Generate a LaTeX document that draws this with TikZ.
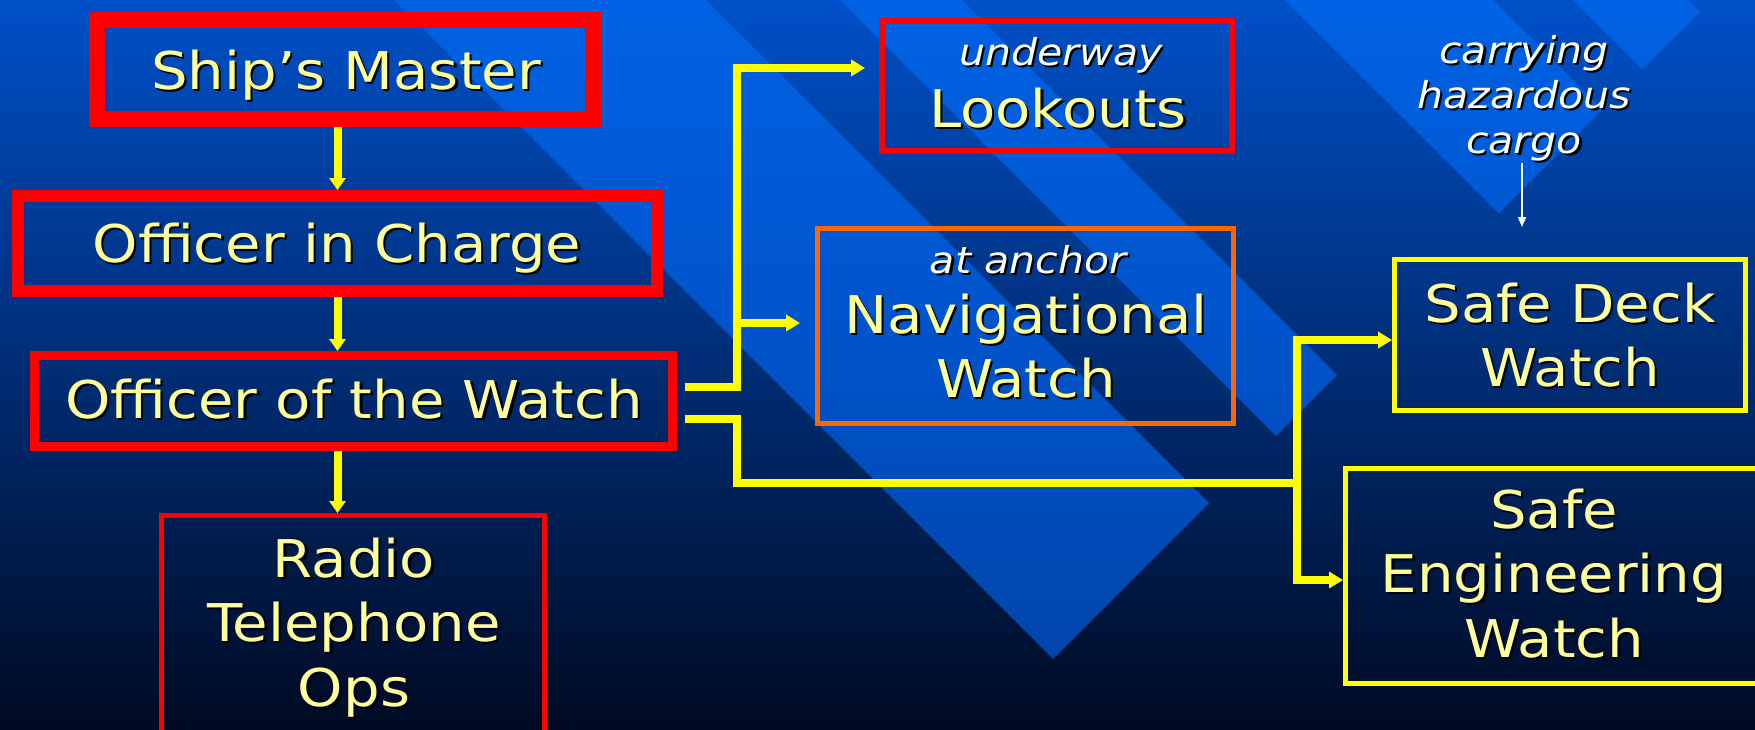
\documentclass[tikz,border=0pt]{standalone}
\usepackage{fontspec}
\setmainfont[FakeStretch=1.11]{DejaVu Sans}
\usetikzlibrary{arrows.meta}
\definecolor{bgtop}{RGB}{0,80,200}
\definecolor{bgmid}{RGB}{0,42,116}
\definecolor{bgbot}{RGB}{0,10,34}
\definecolor{bartop}{RGB}{0,98,228}
\definecolor{barmid}{RGB}{0,82,200}
\definecolor{barbot}{RGB}{0,66,165}
\definecolor{txty}{RGB}{255,255,153}
\definecolor{liney}{RGB}{255,255,0}
\definecolor{boxred}{RGB}{255,0,0}
\definecolor{boxorange}{RGB}{255,102,0}
\newcommand\shd[1]{\leavevmode\rlap{\kern2.2pt\raisebox{-2.2pt}{\color{black}#1}}#1}
\newcommand\bigf{\fontsize{52}{64.5}\selectfont}
\newcommand\smallf{\fontsize{37}{45}\selectfont\itshape}
\tikzset{
  box/.style={draw, rectangle, inner sep=0pt},
  ytxt/.style={text=txty, font=\bigf, anchor=base, inner sep=0pt},
  wtxt/.style={text=white, font=\smallf, anchor=base, inner sep=0pt},
  yline/.style={draw=liney, line width=8pt, line join=miter},
  harrow/.style={yline, -{Triangle[length=14pt,width=16pt]}},
  varrow/.style={yline, -{Triangle[length=12pt,width=16pt]}},
  warrow/.style={draw=white, line width=1.6pt, -{Triangle[length=10pt,width=8pt]}},
  barshade/.style={top color=bartop, bottom color=barbot, middle color=barmid},
}
\begin{document}
\begin{tikzpicture}[x=1pt,y=-1pt]
\useasboundingbox (0,0) rectangle (1755,729);
\clip (0,0) rectangle (1755,729);
% background
\shade[top color=bgtop, middle color=bgmid, bottom color=bgbot] (0,0) rectangle (1755,729);
\begin{scope}
\clip (1053,659) -- (1209,503) -- (209,-497) -- (53,-341) -- cycle;
\shade[barshade] (0,0) rectangle (1755,729);
\end{scope}
\begin{scope}
\clip (1276,436) -- (1337,375) -- (337,-625) -- (276,-564) -- cycle;
\shade[barshade] (0,0) rectangle (1755,729);
\end{scope}
\begin{scope}
\clip (1498.5,213.5) -- (1602.5,109.5) -- (602.5,-890.5) -- (498.5,-786.5) -- cycle;
\shade[barshade] (0,0) rectangle (1755,729);
\end{scope}
\begin{scope}
\clip (1642.5,69.5) -- (1700,12) -- (700,-988) -- (642.5,-930.5) -- cycle;
\shade[barshade] (0,0) rectangle (1755,729);
\end{scope}

% boxes
\node[box, draw=boxred, line width=16pt, minimum width=496pt, minimum height=99pt] (ship) at (345,69.5) {};
\node[box, draw=boxred, line width=12pt, minimum width=639pt, minimum height=95pt] (oic) at (337.5,243.5) {};
\node[box, draw=boxred, line width=9pt, minimum width=638.5pt, minimum height=91pt] (ootw) at (353.25,401) {};
\node[box, draw=boxred, line width=5pt, minimum width=383pt, minimum height=300pt] (radio) at (353,665.5) {};
\node[box, draw=boxred, line width=6pt, minimum width=350pt, minimum height=130pt] (look) at (1057,86) {};
\node[box, draw=boxorange, line width=5pt, minimum width=416pt, minimum height=195pt] (nav) at (1025.5,326) {};
\node[box, draw=liney, line width=5pt, minimum width=351pt, minimum height=151pt] (sdw) at (1570,335) {};
\node[box, draw=liney, line width=5pt, minimum width=417pt, minimum height=215pt] (sew) at (1554,576) {};

% connector coordinates
\coordinate (ax) at (337.5,0);
\coordinate (s1) at (685,387);
\coordinate (s2) at (685,419);
\coordinate (t1) at (737,68);
\coordinate (t2) at (737,387);
\coordinate (t3) at (737,323);
\coordinate (b1) at (737,419);
\coordinate (b2) at (737,483);
\coordinate (r0) at (1297,483);
\coordinate (r1) at (1297,340);
\coordinate (r2) at (1297,580);
\coordinate (w1) at (1522,163);
\coordinate (w2) at (1522,227);

% vertical arrows
\draw[varrow] (ship.south -| ax) -- (oic.north -| ax);
\draw[varrow] (oic.south -| ax) -- (ootw.north -| ax);
\draw[varrow] (ootw.south -| ax) -- (radio.north -| ax);

% branch connectors
\draw[harrow, shorten >=14pt] (s1) -- (t2) -- (t1) -- (look.west |- t1);
\draw[harrow, shorten >=15pt] (t3) -- (nav.west |- t3);
\draw[yline] (s2) -- (b1) -- (b2) -- (r0);
\draw[harrow] (r0) -- (r1) -- (sdw.west |- r1);
\draw[harrow] (r0) -- (r2) -- (sew.west |- r2);
\draw[warrow] (w1) -- (w2);

% texts
\node[ytxt] (shipt) at (346,89) {\shd{Ship’s Master}};
\node[ytxt] (oict) at (337,262) {\shd{Officer in Charge}};
\node[ytxt] (ootwt) at (354,418) {\shd{Officer of the Watch}};
\node[ytxt] (radiot) at (354,577) {\begin{tabular}[t]{@{}c@{}}\shd{Radio}\\\shd{Telephone}\\\shd{Ops}\end{tabular}};
\node[wtxt] (underway) at (1061,65) {\shd{underway}};
\node[ytxt] (lookt) at (1058,127) {\shd{Lookouts}};
\node[wtxt] (anchor) at (1028,273) {\shd{at anchor}};
\node[ytxt] (navt) at (1026,333) {\begin{tabular}[t]{@{}c@{}}\shd{Navigational}\\\shd{Watch}\end{tabular}};
\node[wtxt] (haz) at (1524,63) {\begin{tabular}[t]{@{}c@{}}\shd{carrying}\\\shd{hazardous}\\\shd{cargo}\end{tabular}};
\node[ytxt] (sdwt) at (1570,322) {\begin{tabular}[t]{@{}c@{}}\shd{Safe Deck}\\\shd{Watch}\end{tabular}};
\node[ytxt] (sewt) at (1554,528) {\begin{tabular}[t]{@{}c@{}}\shd{Safe}\\\shd{Engineering}\\\shd{Watch}\end{tabular}};
\end{tikzpicture}
\end{document}
